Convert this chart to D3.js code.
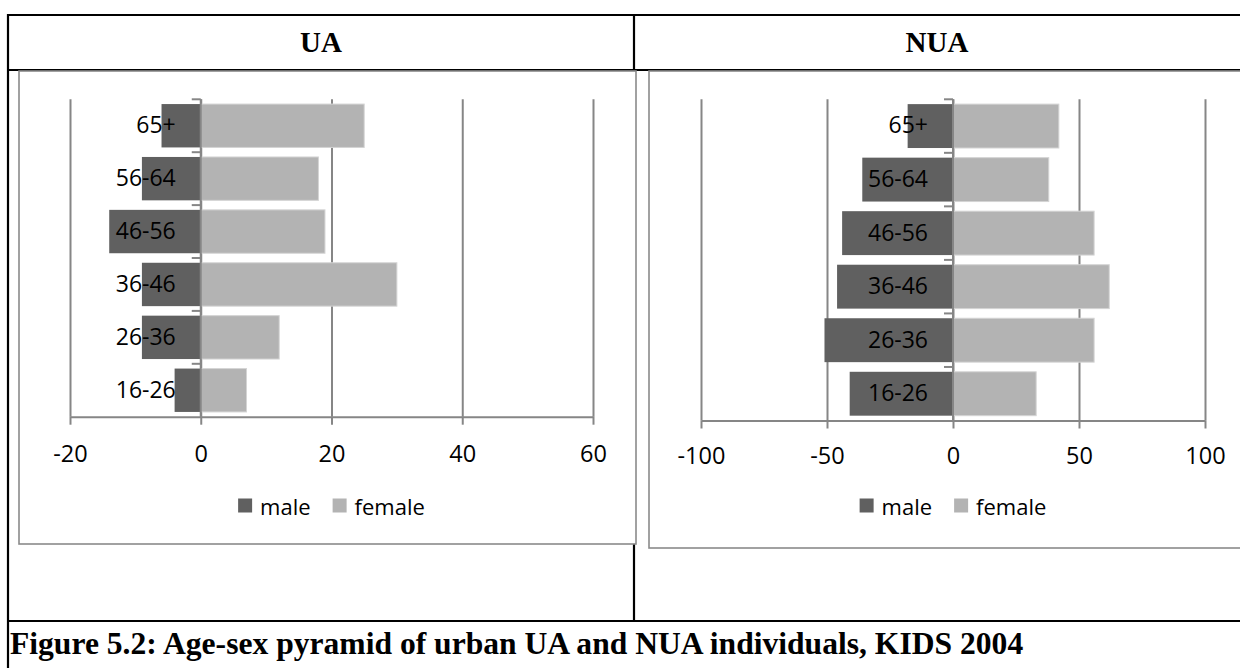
<!DOCTYPE html>
<html>
<head>
<meta charset="utf-8">
<script src="https://cdn.jsdelivr.net/npm/d3@7"></script>
<style>
  html, body { margin: 0; padding: 0; background: #fff; }
  svg { display: block; }
</style>
</head>
<body>
<svg id="fig" width="1240" height="668"></svg>
<script>
// Age groups, bottom to top of the pyramid
const ageGroups = ["16-26", "26-36", "36-46", "46-56", "56-64", "65+"];

// UA panel (males plotted as negative values)
const uaMale   = [-4, -9, -9, -14, -9, -6];
const uaFemale = [7, 12, 30, 19, 18, 25];

// NUA panel
const nuaMale   = [-41, -51, -46, -44, -36, -18];
const nuaFemale = [33, 56, 62, 56, 38, 42];

// Value-axis tick labels
const uaTicks  = [-20, 0, 20, 40, 60];
const nuaTicks = [-100, -50, 0, 50, 100];

const seriesNames = ["male", "female"];
const panelTitles = ["UA", "NUA"];
const captionText = "Figure 5.2: Age-sex pyramid of urban UA and NUA individuals, KIDS 2004";

// ---- styling / layout ----
const COLORS = { male: "#606060", female: "#b3b3b3" };
const GRID = "#868686";
const LABEL_FONT = "'Open Sans', 'Noto Sans', sans-serif";
const SERIF = "'Liberation Serif', 'Times New Roman', serif";

const svg = d3.select("#fig");

// Table frame around the two panels and the caption row
const table = svg.append("g").attr("stroke", "#000").attr("stroke-width", 2.2).attr("fill", "none");
const T = { left: 8, right: 1242, top: 15, headBottom: 70, divider: 634, captionTop: 621, bottom: 670 };

const panels = [
  {
    title: panelTitles[0], male: uaMale, female: uaFemale, ticks: uaTicks,
    box: { x0: 19, y0: 71, x1: 636, y1: 544 },
    plot: { x0: 70, x1: 593, y0: 99.3, y1: 416.7 },
    tickLabelY: 453, legendY: 505.5, titleX: (T.left + T.divider) / 2
  },
  {
    title: panelTitles[1], male: nuaMale, female: nuaFemale, ticks: nuaTicks,
    box: { x0: 649, y0: 71, x1: 1260, y1: 548 },
    plot: { x0: 701, x1: 1205, y0: 99.3, y1: 420.5 },
    tickLabelY: 455, legendY: 505.5, titleX: (T.divider + 1240) / 2
  }
];

// Chart boxes first so the table lines sit on top
panels.forEach(p => drawPanel(p));

table.append("line").attr("x1", T.left).attr("x2", T.right).attr("y1", T.top).attr("y2", T.top);
table.append("line").attr("x1", T.left).attr("x2", T.right).attr("y1", T.headBottom).attr("y2", T.headBottom);
table.append("line").attr("x1", T.left).attr("x2", T.right).attr("y1", T.captionTop).attr("y2", T.captionTop);
table.append("line").attr("x1", T.left).attr("x2", T.left).attr("y1", T.top - 1).attr("y2", T.bottom);
table.append("line").attr("x1", T.divider).attr("x2", T.divider).attr("y1", T.top).attr("y2", T.captionTop);

// Column headings
panels.forEach(p => {
  svg.append("text")
    .attr("x", p.titleX).attr("y", 52)
    .attr("text-anchor", "middle")
    .attr("font-family", SERIF).attr("font-weight", "bold").attr("font-size", 29)
    .attr("fill", "#000")
    .text(p.title);
});

// Caption row
svg.append("text")
  .attr("x", 10).attr("y", 654)
  .attr("font-family", SERIF).attr("font-weight", "bold").attr("font-size", 31.6)
  .attr("fill", "#000")
  .text(captionText);

function drawPanel(p) {
  const g = svg.append("g");

  g.append("rect")
    .attr("x", p.box.x0).attr("y", p.box.y0)
    .attr("width", p.box.x1 - p.box.x0).attr("height", p.box.y1 - p.box.y0)
    .attr("fill", "#fff").attr("stroke", "#8a8a8a").attr("stroke-width", 1.6);

  const x = d3.scaleLinear()
    .domain([p.ticks[0], p.ticks[p.ticks.length - 1]])
    .range([p.plot.x0, p.plot.x1]);

  const y = d3.scaleBand()
    .domain(ageGroups.slice().reverse())
    .range([p.plot.y0, p.plot.y1])
    .paddingInner(0.18)
    .paddingOuter(0.09);

  const h = p.plot.y1 - p.plot.y0;

  // vertical gridlines
  const grid = g.append("g")
    .attr("transform", `translate(0,${p.plot.y1})`)
    .call(d3.axisBottom(x).tickValues(p.ticks).tickSize(-h).tickFormat("").tickSizeOuter(0));
  grid.select(".domain").remove();
  grid.selectAll("line").attr("stroke", GRID).attr("stroke-width", 2);

  const rows = ageGroups.map((a, i) => ({ age: a, male: p.male[i], female: p.female[i] }));

  // bars: male to the left of zero, female to the right
  g.append("g").selectAll("rect.female")
    .data(rows).join("rect")
    .attr("class", "female")
    .attr("x", d => x(0))
    .attr("y", d => y(d.age))
    .attr("width", d => x(d.female) - x(0))
    .attr("height", y.bandwidth())
    .attr("fill", COLORS.female)
    .attr("stroke", "#d4d4d4").attr("stroke-width", 1);

  g.append("g").selectAll("rect.male")
    .data(rows).join("rect")
    .attr("class", "male")
    .attr("x", d => x(d.male))
    .attr("y", d => y(d.age))
    .attr("width", d => x(0) - x(d.male))
    .attr("height", y.bandwidth())
    .attr("fill", COLORS.male);

  // category axis on the zero line, with ticks at band boundaries
  const x0 = x(0);
  g.append("line")
    .attr("x1", x0).attr("x2", x0).attr("y1", p.plot.y0).attr("y2", p.plot.y1)
    .attr("stroke", GRID).attr("stroke-width", 2);
  const half = y.step() * y.paddingInner() / 2;
  const bounds = ageGroups.map(a => y(a) - half);
  g.append("g").selectAll("line")
    .data(bounds).join("line")
    .attr("x1", x0 - 9).attr("x2", x0)
    .attr("y1", d => d).attr("y2", d => d)
    .attr("stroke", GRID).attr("stroke-width", 2);

  const cat = g.append("g")
    .attr("transform", `translate(${x0},0)`)
    .call(d3.axisLeft(y).tickSize(0).tickPadding(25));
  cat.select(".domain").remove();
  cat.selectAll("text")
    .attr("font-family", LABEL_FONT).attr("font-size", 23).attr("fill", "#000");

  // value axis (plain hyphen for negatives)
  const ax = g.append("g")
    .attr("transform", `translate(0,${p.plot.y1})`)
    .call(d3.axisBottom(x).tickValues(p.ticks).tickSize(8).tickSizeOuter(0).tickPadding(20)
      .tickFormat(d => String(d)));
  ax.select(".domain").attr("stroke", GRID).attr("stroke-width", 2);
  ax.selectAll(".tick line").attr("stroke", GRID).attr("stroke-width", 2);
  ax.selectAll("text")
    .attr("font-family", LABEL_FONT).attr("font-size", 23.5).attr("fill", "#000")
    .attr("y", null).attr("dy", null)
    .attr("transform", `translate(0,${p.tickLabelY - p.plot.y1})`)
    .attr("dominant-baseline", "central");

  // legend centred under the plot
  const leg = g.append("g");
  const sw = 14, gapText = 8, gapItem = 22;
  let cursor = 0;
  seriesNames.forEach(name => {
    const it = leg.append("g");
    it.append("rect").attr("x", 0).attr("y", -sw / 2).attr("width", sw).attr("height", sw)
      .attr("fill", COLORS[name]);
    const t = it.append("text").attr("x", sw + gapText).attr("y", 0)
      .attr("dominant-baseline", "central")
      .attr("font-family", LABEL_FONT).attr("font-size", 22).attr("fill", "#000")
      .text(name);
    const w = sw + gapText + t.node().getComputedTextLength();
    it.attr("transform", `translate(${cursor},0)`);
    cursor += w + gapItem;
  });
  const total = cursor - gapItem;
  const cx = (p.plot.x0 + p.plot.x1) / 2;
  leg.attr("transform", `translate(${cx - total / 2},${p.legendY})`);
}
</script>
</body>
</html>
